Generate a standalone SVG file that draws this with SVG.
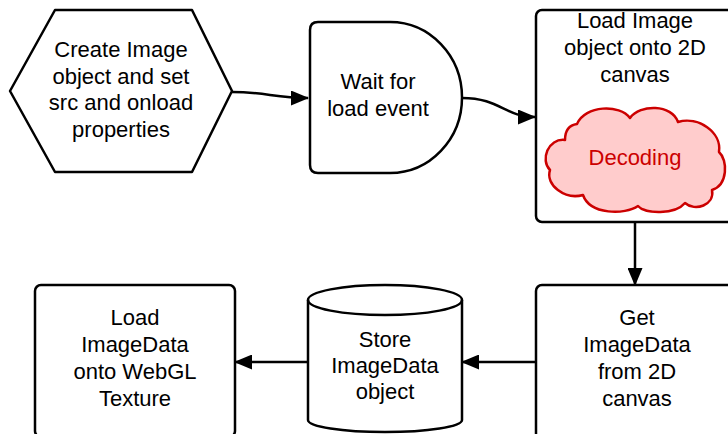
<svg xmlns="http://www.w3.org/2000/svg" width="728" height="434" viewBox="0 0 728 434">
<style>
.s{fill:#fff;stroke:#000;stroke-width:2.5;stroke-linejoin:round}
.t{font-family:"Liberation Sans",Arial,sans-serif;font-size:22px;fill:#000;text-anchor:middle}
.c{fill:none;stroke:#000;stroke-width:2.5}
.cloud{fill:#ffcccc;stroke:#cc0000;stroke-width:2.5;stroke-linejoin:round}
</style>
<defs>
<marker id="ah" markerUnits="userSpaceOnUse" markerWidth="18" markerHeight="15" refX="17" refY="7.5" viewBox="0 0 18 15" orient="auto">
<path d="M0,0 L18,7.5 L0,15 z" fill="#000"/>
</marker>
</defs>
<rect width="728" height="434" fill="#fff"/>
<g id="create">
<path class="s" d="M10,91 L55,10 L192,10 L232,91 L192,172 L55,172 Z"/>
<text class="t" x="121" y="57">Create Image</text>
<text class="t" x="121" y="84">object and set</text>
<text class="t" x="121" y="110">src and onload</text>
<text class="t" x="121" y="137">properties</text>
</g>
<g id="wait">
<path class="s" d="M318,22 H390 A72,75.5 0 0 1 390,173 H318 Q310,173 310,165 V30 Q310,22 318,22 Z"/>
<text class="t" x="378" y="89">Wait for</text>
<text class="t" x="378" y="116">load event</text>
</g>
<g id="loadimage">
<rect class="s" x="536" y="10" width="210" height="212" rx="6"/>
<text class="t" x="635" y="28">Load Image</text>
<text class="t" x="635" y="55">object onto 2D</text>
<text class="t" x="635" y="82">canvas</text>
</g>
<g id="decoding">
<path class="cloud" d="M577,124 C585,105 620,104 630,118 C640,104 672,104 678,122 C698,116 722,132 719,152 C728,160 728,185 712,190 C715,205 695,212 685,203 C675,215 645,214 638,206 C625,215 590,215 583,195 C565,200 545,185 550,170 C540,160 548,138 565,140 C565,130 570,125 577,124 Z"/>
<text class="t" x="635" y="165" style="fill:#cc0000">Decoding</text>
</g>
<g id="getimagedata">
<rect class="s" x="536" y="285" width="210" height="160" rx="6"/>
<text class="t" x="637" y="325">Get</text>
<text class="t" x="637" y="352">ImageData</text>
<text class="t" x="637" y="379">from 2D</text>
<text class="t" x="637" y="406">canvas</text>
</g>
<g id="store">
<path class="s" d="M308,300 A77,15 0 0 1 462,300 V420 A77,12 0 0 1 308,420 Z"/>
<path class="c" d="M308,300 A77,15 0 0 0 462,300"/>
<text class="t" x="385" y="347">Store</text>
<text class="t" x="385" y="373">ImageData</text>
<text class="t" x="385" y="399">object</text>
</g>
<g id="loadtexture">
<rect class="s" x="35" y="285" width="200" height="152" rx="6"/>
<text class="t" x="135" y="325">Load</text>
<text class="t" x="135" y="352">ImageData</text>
<text class="t" x="135" y="379">onto WebGL</text>
<text class="t" x="135" y="406">Texture</text>
</g>
<g id="connectors">
<path class="c" d="M232,92 C265,92 275,98 308,98" marker-end="url(#ah)"/>
<path class="c" d="M462,98 C500,98 505,117 535,117" marker-end="url(#ah)"/>
<path class="c" d="M635,222 V285" marker-end="url(#ah)"/>
<path class="c" d="M536,362 H462" marker-end="url(#ah)"/>
<path class="c" d="M308,362 H235" marker-end="url(#ah)"/>
</g>
</svg>
